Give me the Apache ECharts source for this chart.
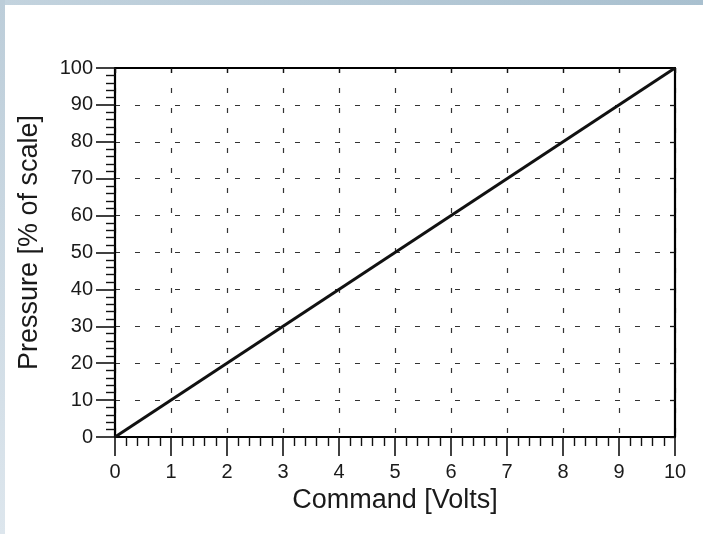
<!DOCTYPE html>
<html>
<head>
<meta charset="utf-8">
<script src="https://cdn.jsdelivr.net/npm/echarts@6/dist/echarts.min.js"></script>
<style>
html,body{margin:0;padding:0;background:#fff;}
#c{width:703px;height:534px;}
</style>
</head>
<body>
<div id="c"></div>
<script>
// Data
const xTicks = [0, 1, 2, 3, 4, 5, 6, 7, 8, 9, 10];
const yTicks = [0, 10, 20, 30, 40, 50, 60, 70, 80, 90, 100];
const commandVolts = [0, 10];
const pressurePct = [0, 100];
const xTitle = 'Command [Volts]';
const yTitle = 'Pressure [% of scale]';

const chart = echarts.init(document.getElementById('c'), null, {renderer: 'canvas'});
const font = 'Liberation Sans, Arial, Helvetica, sans-serif';
const ink = '#1a1a1a';
const dashColor = '#333333';

const points = commandVolts.map((v, i) => [v, pressurePct[i]]);

const option = {
  backgroundColor: '#ffffff',
  animation: false,
  graphic: [
    {type: 'rect', left: 0, top: 0, shape: {width: 703, height: 5}, z: -10,
      style: {fill: new echarts.graphic.LinearGradient(0, 0, 1, 0, [{offset: 0, color: '#c3d3de'}, {offset: 1, color: '#a9c0cf'}])}},
    {type: 'rect', left: 0, top: 0, shape: {width: 5, height: 534}, z: -10,
      style: {fill: new echarts.graphic.LinearGradient(0, 0, 0, 1, [{offset: 0, color: '#bccdd9'}, {offset: 1, color: '#dde6ed'}])}}
  ],
  grid: {left: 115, top: 68, right: 28, bottom: 97, containLabel: false},
  xAxis: [
    {
      type: 'value', min: 0, max: 10, interval: 1, position: 'bottom',
      name: xTitle, nameLocation: 'middle', nameGap: 45,
      nameTextStyle: {fontFamily: font, fontSize: 27, color: ink},
      axisLine: {show: true, onZero: false, lineStyle: {color: '#000', width: 2.2}},
      axisTick: {show: true, inside: false, length: 19, lineStyle: {color: '#111', width: 1.6}},
      minorTick: {show: true, splitNumber: 5, length: 9, lineStyle: {color: '#111', width: 1.4}},
      axisLabel: {show: true, margin: 25, fontFamily: font, fontSize: 20, color: ink},
      splitLine: {show: true, lineStyle: {type: [5, 15], color: dashColor, width: 1.2}},
      minorSplitLine: {show: false}
    },
    {
      type: 'value', min: 0, max: 10, interval: 1, position: 'top',
      axisLine: {show: true, onZero: false, lineStyle: {color: '#000', width: 2.2}},
      axisTick: {show: true, inside: true, length: 5, lineStyle: {color: '#111', width: 1.3}},
      axisLabel: {show: false},
      splitLine: {show: false}
    }
  ],
  yAxis: [
    {
      type: 'value', min: 0, max: 100, interval: 10, position: 'left',
      name: yTitle, nameLocation: 'middle', nameGap: 72, nameRotate: 90,
      nameTextStyle: {fontFamily: font, fontSize: 27, color: ink, padding: [0, 0, 0, 20]},
      axisLine: {show: true, onZero: false, lineStyle: {color: '#000', width: 2.2}},
      axisTick: {show: true, inside: false, length: 19, lineStyle: {color: '#111', width: 1.6}},
      minorTick: {show: true, splitNumber: 5, length: 9, lineStyle: {color: '#111', width: 1.4}},
      axisLabel: {show: true, margin: 22, fontFamily: font, fontSize: 20, color: ink},
      splitLine: {show: true, lineStyle: {type: [5, 15], color: dashColor, width: 1.2}},
      minorSplitLine: {show: false}
    },
    {
      type: 'value', min: 0, max: 100, interval: 10, position: 'right',
      axisLine: {show: true, onZero: false, lineStyle: {color: '#000', width: 2.2}},
      axisTick: {show: true, inside: true, length: 5, lineStyle: {color: '#111', width: 1.3}},
      axisLabel: {show: false},
      splitLine: {show: false}
    }
  ],
  series: [
    {
      type: 'line', xAxisIndex: 0, yAxisIndex: 0,
      data: points, showSymbol: false, symbol: 'none',
      lineStyle: {color: '#111', width: 3}, z: 5
    }
  ]
};
chart.setOption(option);
</script>
</body>
</html>
